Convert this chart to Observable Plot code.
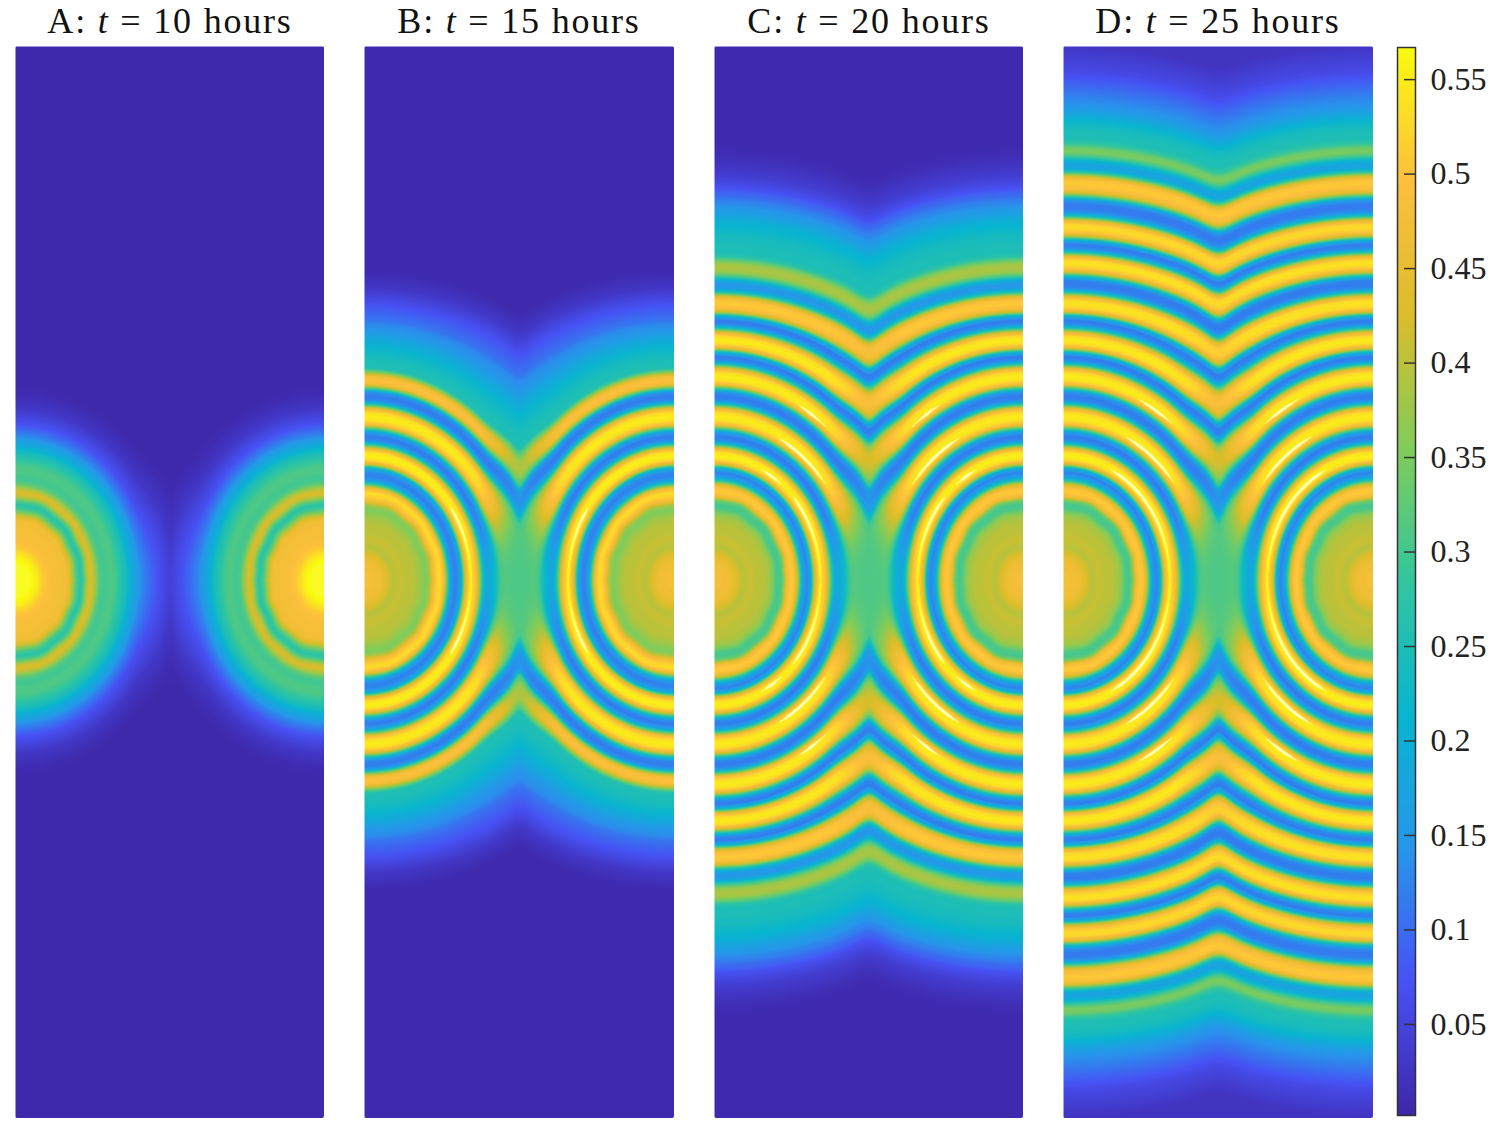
<!DOCTYPE html>
<html><head><meta charset="utf-8">
<script src="https://cdn.jsdelivr.net/npm/d3@7"></script>
<script src="https://cdn.jsdelivr.net/npm/@observablehq/plot@0.6"></script>
<style>
html,body{margin:0;padding:0;background:#fff}
#root{position:relative;width:1495px;height:1123px;overflow:hidden}
.ttl{position:absolute;top:0;height:40px;line-height:42px;text-align:center;font-family:"Liberation Serif",serif;font-size:36px;letter-spacing:1.8px;color:#111;white-space:pre}
.slot{position:absolute}
.slot.panel svg{display:block;border-radius:2px;filter:blur(.5px)}
.slot svg{display:block}
</style></head><body><div id="root"></div>
<script>
// Value along the transect from a source, every 4 px of distance
const stepPx = 4;
const profileA = [.57,.57,.57,.57,.57,.565,.55,.53,.51,.50,.49,.48,.48,.48,.475,.47,.43,.36,.30,.27,.32,.40,.43,.39,.33,.30,.30,.31,.31,.30,.28,.26,.24,.21,.18,.16,.13,.11,.09,.07,.06,.05,.04,.03,.025,.02,.015,.01,.008,.005];
const profileB = [.48,.48,.48,.47,.47,.46,.44,.42,.40,.40,.41,.41,.40,.40,.40,.39,.38,.36,.35,.39,.47,.52,.53,.47,.30,.16,.12,.13,.20,.42,.53,.555,.54,.44,.26,.13,.115,.16,.32,.49,.54,.55,.53,.44,.26,.13,.115,.14,.32,.47,.50,.47,.36,.26,.25,.25,.24,.23,.22,.20,.19,.17,.15,.14,.13,.11,.10,.09,.08,.07,.06,.05,.04,.03,.025,.02,.015,.01,.008];
const profileC = [.48,.48,.48,.47,.47,.46,.44,.42,.40,.40,.41,.41,.40,.40,.40,.39,.38,.35,.31,.30,.34,.46,.51,.50,.42,.26,.15,.12,.20,.42,.53,.555,.54,.44,.26,.13,.115,.16,.32,.49,.54,.55,.53,.44,.26,.13,.115,.14,.30,.48,.54,.55,.53,.44,.26,.13,.115,.22,.44,.53,.55,.53,.44,.26,.13,.115,.20,.40,.49,.51,.50,.42,.26,.16,.14,.20,.30,.37,.39,.38,.33,.27,.25,.25,.25,.24,.24,.23,.22,.21,.20,.18,.16,.15,.13,.12,.10,.09,.07,.06,.05,.04,.035,.03,.025,.02,.015,.012,.01,.008];
const profileD = [.48,.48,.48,.47,.47,.46,.44,.42,.40,.40,.41,.41,.40,.40,.40,.39,.38,.35,.31,.30,.34,.46,.51,.50,.42,.26,.15,.12,.20,.42,.53,.555,.54,.44,.26,.13,.115,.16,.32,.49,.54,.55,.53,.44,.26,.13,.115,.14,.30,.48,.54,.55,.53,.44,.26,.13,.115,.22,.44,.53,.55,.53,.44,.26,.13,.115,.20,.42,.52,.54,.53,.44,.26,.13,.115,.125,.24,.42,.51,.54,.53,.44,.26,.13,.115,.20,.40,.50,.53,.52,.44,.26,.14,.115,.115,.15,.30,.44,.49,.51,.50,.42,.28,.18,.17,.22,.30,.35,.34,.29,.26,.25,.25,.24,.23,.21,.19,.17,.15,.14,.13,.12,.11,.10,.09,.08,.07,.06,.055,.05,.045,.04,.035,.03,.025];
const titles = ["A","B","C","D"];
const hours = [10,15,20,25];
// Bright crests that run past the top of the colour bar: ring, from angle, to angle (degrees)
const crestsA = [];
const crestsB = [[123,0,38]];
const crestsC = [[123,0,44],[123,58,64],[160,43,63],[200,57,62]];
const crestsD = [[123,0,64],[160,44,64],[200,58,65]];
const midFill = [0,1,1,1];
const barTicks = [.05,.1,.15,.2,.25,.3,.35,.4,.45,.5,.55];
const parulaValues = [.0018,.0724,.1430,.2135,.2844,.3550,.4255,.4960,.567,.6];
const parulaColors = ["#3e26a8","#4752f4","#2796eb","#08b5d0","#31c69f","#81cc59","#dcbd29","#fdbf3d","#f9fb0e","#ffffff"];

const panelLeft = [15,364,714,1063];
const panelWidth = [309,310,309,310];
const panelTop = 46, panelW = 310, panelH = 1072, centreY = 534;
const root = document.getElementById("root");
const colorScale = {type:"linear", domain:parulaValues, range:parulaColors, clamp:true};
const sstep = (a,b,t)=>{t=Math.max(0,Math.min(1,(t-a)/(b-a)));return t*t*(3-2*t)};

function field(profile, crests, mid){
  const at = r => {
    const u = r/stepPx, i = Math.floor(u);
    if (i >= profile.length-1) return profile[profile.length-1];
    return profile[i]+(profile[i+1]-profile[i])*(u-i);
  };
  const dist = (dx,dy) => {
    const h = Math.hypot(dx,dy)||1e-6, c = dx/h;
    const k = 1+.16*c*c*(1-.55*sstep(115,155,dx))*(1-sstep(200,300,h));
    const r = h*k;
    return r+.7*Math.sin(14*Math.atan2(dy,dx))*(1-sstep(82,98,r))*sstep(30,60,r);
  };
  const softness = 8;
  return (x,y) => {
    const dy = Math.abs(y-centreY), dm = Math.abs(x-panelW/2);
    const r1 = dist(x,dy), r2 = dist(panelW-x,dy);
    const d = Math.abs(r1-r2)/2, e = softness;
    const q = d*d+e*e;
    const r = (r1+r2)/2-Math.sqrt(q)+e*e*e/q;
    let v = at(r);
    const ang = Math.atan2(dy,x<panelW/2?x:panelW-x)*180/Math.PI;
    for (const [r0,a,b] of crests){
      if (ang>=a-3 && ang<=b+3){
        const t = Math.min(1,Math.min(ang-a+3,b+3-ang)/5);
        const w = 1.8*t;
        if (Math.abs(r-r0)<w) v = Math.max(v,.57+.035*(1-Math.abs(r-r0)/w));
      }
    }
    const g = Math.exp(-((dm/28)**2));
    const amp = 1-g*.95*Math.exp(-((dy/150)**2));
    if (v>.3) v = .3+(v-.3)*amp;
    if (mid){
      const g2 = Math.exp(-((dm/30)**2))*Math.exp(-((dy/55)**2));
      v += (.31-v)*g2;
    }
    return v;
  };
}

[profileA,profileB,profileC,profileD].forEach((p,i)=>{
  const crests=[crestsA,crestsB,crestsC,crestsD][i];
  const chart = Plot.plot({
    width:panelWidth[i],height:panelH,margin:0,
    x:{domain:[0,panelW],range:[0,panelWidth[i]],axis:null},
    y:{domain:[0,panelH],range:[0,panelH],axis:null},
    color:colorScale,
    marks:[Plot.raster({fill:field(p,crests,midFill[i]),x1:0,x2:panelW,y1:0,y2:panelH,pixelSize:1,imageRendering:"auto"})]
  });
  const slot=document.createElement("div");slot.className="slot panel";
  slot.style.left=panelLeft[i]+"px";slot.style.top=panelTop+"px";
  slot.appendChild(chart);root.appendChild(slot);
  const t=document.createElement("div");t.className="ttl";
  t.style.left=panelLeft[i]+"px";t.style.width=panelW+"px";
  t.innerHTML=`${titles[i]}: <i>t</i> = ${hours[i]} hours`;
  root.appendChild(t);
});

const bar = Plot.plot({
  width:98,height:1068,marginLeft:0,marginTop:0,marginBottom:0,marginRight:80,
  x:{domain:[0,1],axis:null},
  y:{domain:[.0018,.567],range:[1068,0],axis:null},
  color:colorScale,
  style:{fontFamily:"Liberation Serif, serif",fontSize:"32px",color:"#222",background:"transparent",overflow:"visible"},
  marks:[
    Plot.raster({fill:(x,y)=>y,x1:0,x2:1,y1:.0018,y2:.567,pixelSize:1}),
    Plot.frame({stroke:"#333",strokeWidth:1.5}),
    Plot.axisY(barTicks,{anchor:"right",tickSize:-12,tickPadding:27,stroke:"#333",strokeWidth:1.5,fontSize:32,fill:"#222",tickFormat:d=>String(d),label:null})
  ]
});
const slot=document.createElement("div");slot.className="slot";
slot.style.left="1397px";slot.style.top="47px";slot.appendChild(bar);root.appendChild(slot);
</script></body></html>
